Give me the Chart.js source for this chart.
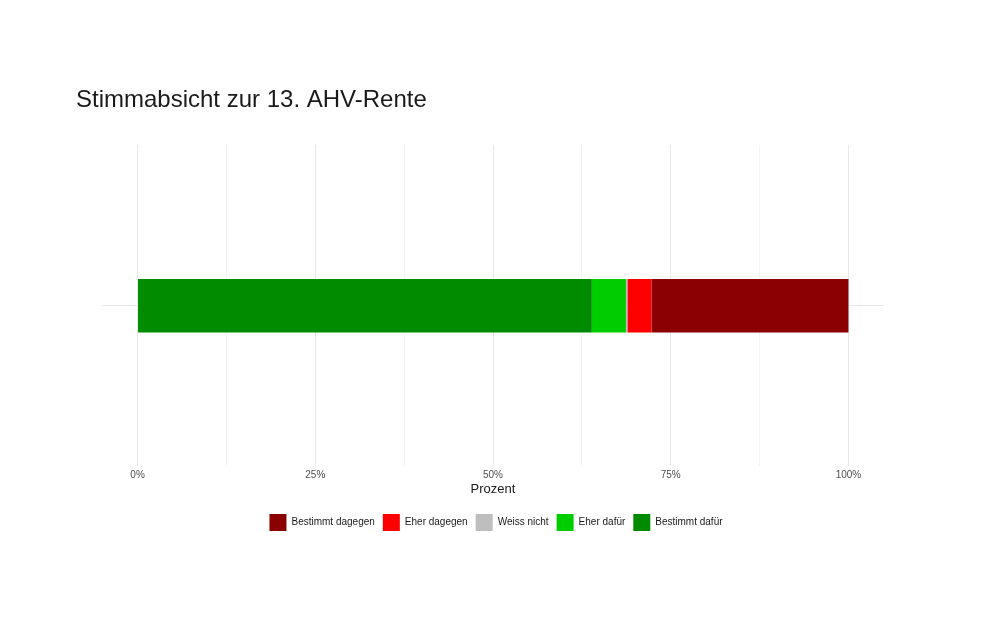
<!DOCTYPE html>
<html>
<head>
<meta charset="utf-8">
<script src="https://cdn.jsdelivr.net/npm/chart.js@4.4.0/dist/chart.umd.min.js"></script>
<style>
html,body{margin:0;padding:0;background:#fff;}
#wrap{width:994px;height:638px;}
</style>
</head>
<body>
<div id="wrap"><canvas id="c" width="994" height="638"></canvas></div>
<script>
const titleText = "Stimmabsicht zur 13. AHV-Rente";
const categories = [""];
// stacked left to right
const seriesNames = ["Bestimmt dafür", "Eher dafür", "Weiss nicht", "Eher dagegen", "Bestimmt dagegen"];
const bestimmtDafuer = [63.9];
const eherDafuer = [4.8];
const weissNicht = [0.2];
const eherDagegen = [3.4];
const bestimmtDagegen = [27.7];
const seriesColors = ["#008B00", "#00CD00", "#BEBEBE", "#FF0000", "#8B0000"];
const majorTicks = [0, 25, 50, 75, 100];
const minorTicks = [12.5, 37.5, 62.5, 87.5];
const xTitle = "Prozent";

const seriesValues = [bestimmtDafuer, eherDafuer, weissNicht, eherDagegen, bestimmtDagegen];
const datasets = seriesNames.map((n, i) => ({
  label: n,
  data: seriesValues[i],
  backgroundColor: seriesColors[i],
  borderWidth: 0,
  barPercentage: 0.166,
  categoryPercentage: 1.0
}));

const FONT = "'Liberation Sans', Arial, sans-serif";

new Chart(document.getElementById('c'), {
  type: 'bar',
  data: { labels: categories, datasets: datasets },
  options: {
    indexAxis: 'y',
    responsive: false,
    animation: false,
    devicePixelRatio: 1,
    layout: { padding: { left: 76, right: 78, top: 86, bottom: 97 } },
    plugins: {
      title: {
        display: true, text: titleText, align: 'start',
        color: '#1a1a1a',
        font: { family: FONT, size: 24, weight: 'normal', lineHeight: 1.2 },
        padding: { top: 0, bottom: 30.2 }
      },
      legend: {
        display: true, position: 'bottom', reverse: true,
        labels: {
          boxWidth: 17, boxHeight: 17, padding: 8,
          color: '#1a1a1a',
          font: { family: FONT, size: 10 }
        }
      },
      tooltip: { enabled: false }
    },
    scales: {
      x: {
        type: 'linear', stacked: true, min: -5, max: 105,
        afterBuildTicks: (s) => {
          s.ticks = majorTicks.concat(minorTicks).sort((a, b) => a - b).map(v => ({ value: v }));
        },
        ticks: {
          autoSkip: false, maxRotation: 0, padding: 3,
          color: '#4d4d4d',
          font: { family: FONT, size: 10 },
          callback: (v) => majorTicks.includes(v) ? v + '%' : ''
        },
        grid: {
          drawTicks: false,
          color: (ctx) => (ctx.tick && majorTicks.includes(ctx.tick.value)) ? '#e8e8e8' : '#f3f3f3',
          lineWidth: 1
        },
        border: { display: false },
        title: {
          display: true, text: xTitle, color: '#1a1a1a',
          font: { family: FONT, size: 13 },
          padding: { top: -3, bottom: 9 }
        }
      },
      y: {
        type: 'category', stacked: true,
        afterFit: (s) => { s.width = 26; },
        ticks: { display: false },
        grid: { offset: false, drawTicks: false, color: '#e8e8e8', lineWidth: 1 },
        border: { display: false }
      },
      yr: {
        type: 'linear', position: 'right', display: true,
        afterFit: (s) => { s.width = 32; },
        ticks: { display: false },
        grid: { display: false, drawTicks: false },
        border: { display: false }
      }
    }
  }
});
</script>
</body>
</html>
